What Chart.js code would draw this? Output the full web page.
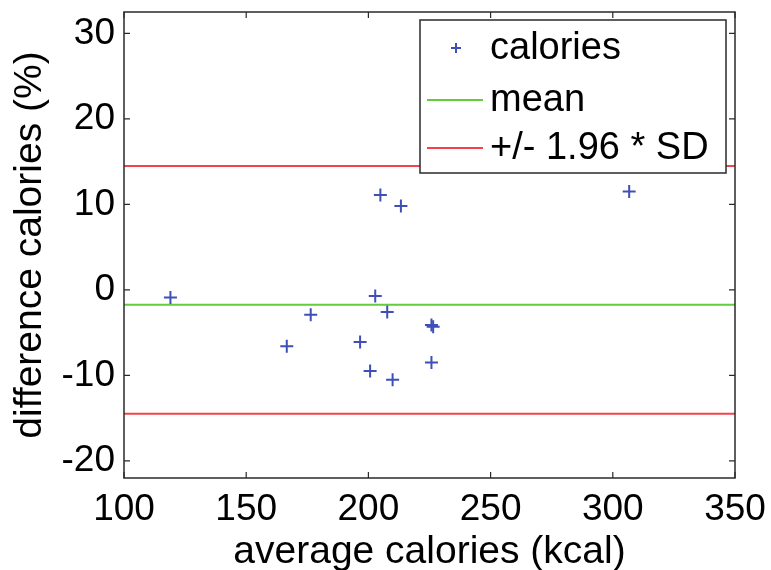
<!DOCTYPE html>
<html>
<head>
<meta charset="utf-8">
<script src="https://cdn.jsdelivr.net/npm/chart.js@4"></script>
<style>
  body { margin: 0; background: #fff; }
  canvas { display: block; }
</style>
</head>
<body>
<canvas id="grafica" width="771" height="570"></canvas>
<script>
// datos
const avgCalories  = [119, 166.6, 176.4, 196.6, 200.7, 202.8, 204.9, 207.7, 209.9, 213.3, 225.8, 226.5, 225.8, 306.7];
const diffCalories = [-0.9, -6.6, -2.9, -6.1, -9.5, -0.7, 11.1, -2.6, -10.5, 9.8, -4.1, -4.3, -8.5, 11.5];
const meanDiff = -1.75;
const limitUpper = 14.5;
const limitLower = -14.5;
const xRange = [100, 350];
const yRange = [-22, 32.5];
const xTicks = [100, 150, 200, 250, 300, 350];
const yTicks = [-20, -10, 0, 10, 20, 30];
const legendLabels = ['calories', 'mean', '+/- 1.96 * SD'];

const colores = {
    azul: '#3e4fb8',
    verde: '#62cc3e',
    rojo: '#f2434c',
    marco: '#2a2a2a'
};
const fuente = 'Liberation Sans, Arial, Helvetica, sans-serif';

function horizontal(y) {
    return [{x: xRange[0], y: y}, {x: xRange[1], y: y}];
}

// marco, marcas de ejes hacia dentro y leyenda
const marcoPlugin = {
    id: 'marco',
    afterDraw(chart) {
        const {ctx, chartArea: a, scales: {x, y}} = chart;
        ctx.save();
        ctx.strokeStyle = colores.marco;
        ctx.lineWidth = 1.5;
        ctx.strokeRect(a.left, a.top, a.right - a.left, a.bottom - a.top);
        ctx.lineWidth = 1.2;
        ctx.beginPath();
        const len = 6;
        xTicks.forEach(v => {
            const px = x.getPixelForValue(v);
            ctx.moveTo(px, a.bottom); ctx.lineTo(px, a.bottom - len);
            ctx.moveTo(px, a.top); ctx.lineTo(px, a.top + len);
        });
        yTicks.forEach(v => {
            const py = y.getPixelForValue(v);
            ctx.moveTo(a.left, py); ctx.lineTo(a.left + len, py);
            ctx.moveTo(a.right, py); ctx.lineTo(a.right - len, py);
        });
        ctx.stroke();

        // leyenda
        const bx = 420, by = 20, bw = 306, bh = 153;
        ctx.fillStyle = '#fff';
        ctx.fillRect(bx, by, bw, bh);
        ctx.strokeStyle = colores.marco;
        ctx.lineWidth = 1.5;
        ctx.strokeRect(bx, by, bw, bh);
        const rows = [48, 100, 148];
        ctx.font = '38px ' + fuente;
        ctx.textBaseline = 'middle';
        ctx.textAlign = 'left';
        rows.forEach((ry, i) => {
            ctx.lineWidth = 2;
            if (i === 0) {
                ctx.strokeStyle = colores.azul;
                ctx.beginPath();
                ctx.moveTo(451, ry); ctx.lineTo(461, ry);
                ctx.moveTo(456, ry - 5); ctx.lineTo(456, ry + 5);
                ctx.stroke();
            } else {
                ctx.strokeStyle = i === 1 ? colores.verde : colores.rojo;
                ctx.beginPath();
                ctx.moveTo(427, ry); ctx.lineTo(483, ry);
                ctx.stroke();
            }
            ctx.fillStyle = '#000';
            ctx.fillText(legendLabels[i], 490, ry + 1);
        });
        ctx.restore();
    }
};

new Chart(document.getElementById('grafica'), {
    type: 'scatter',
    data: {
        datasets: [
            {
                label: legendLabels[0],
                data: avgCalories.map((v, i) => ({x: v, y: diffCalories[i]})),
                pointStyle: 'cross',
                pointRadius: 6.5,
                borderColor: colores.azul,
                borderWidth: 2,
                showLine: false
            },
            {
                label: legendLabels[1],
                type: 'line',
                data: horizontal(meanDiff),
                borderColor: colores.verde,
                borderWidth: 2,
                pointRadius: 0
            },
            {
                label: legendLabels[2],
                type: 'line',
                data: horizontal(limitUpper),
                borderColor: colores.rojo,
                borderWidth: 2,
                pointRadius: 0
            },
            {
                label: legendLabels[2],
                type: 'line',
                data: horizontal(limitLower),
                borderColor: colores.rojo,
                borderWidth: 2,
                pointRadius: 0
            }
        ]
    },
    options: {
        responsive: false,
        animation: false,
        layout: { padding: { top: 12, right: 36, left: 0, bottom: 0 } },
        plugins: {
            legend: { display: false },
            tooltip: { enabled: false }
        },
        scales: {
            x: {
                type: 'linear',
                min: xRange[0],
                max: xRange[1],
                afterBuildTicks: s => { s.ticks = xTicks.map(v => ({value: v})); },
                afterFit: s => { s.height = 92; s.paddingLeft = 0; s.paddingRight = 0; },
                grid: { display: false, drawTicks: false },
                border: { display: false },
                ticks: {
                    color: '#000',
                    font: { family: fuente, size: 37 },
                    padding: 10,
                    maxRotation: 0,
                    autoSkip: false
                },
                title: {
                    display: true,
                    text: 'average calories (kcal)',
                    color: '#000',
                    font: { family: fuente, size: 39, lineHeight: 1 },
                    padding: { top: 0, bottom: -2 }
                }
            },
            y: {
                type: 'linear',
                min: yRange[0],
                max: yRange[1],
                afterBuildTicks: s => { s.ticks = yTicks.map(v => ({value: v})); },
                afterFit: s => { s.width = 124; s.paddingTop = 0; s.paddingBottom = 0; },
                grid: { display: false, drawTicks: false },
                border: { display: false },
                ticks: {
                    color: '#000',
                    font: { family: fuente, size: 37 },
                    padding: 9,
                    autoSkip: false
                },
                title: {
                    display: true,
                    text: 'difference calories (%)',
                    color: '#000',
                    font: { family: fuente, size: 39, lineHeight: 1 },
                    padding: { top: 11, bottom: 0 }
                }
            }
        }
    },
    plugins: [marcoPlugin]
});
</script>
</body>
</html>
